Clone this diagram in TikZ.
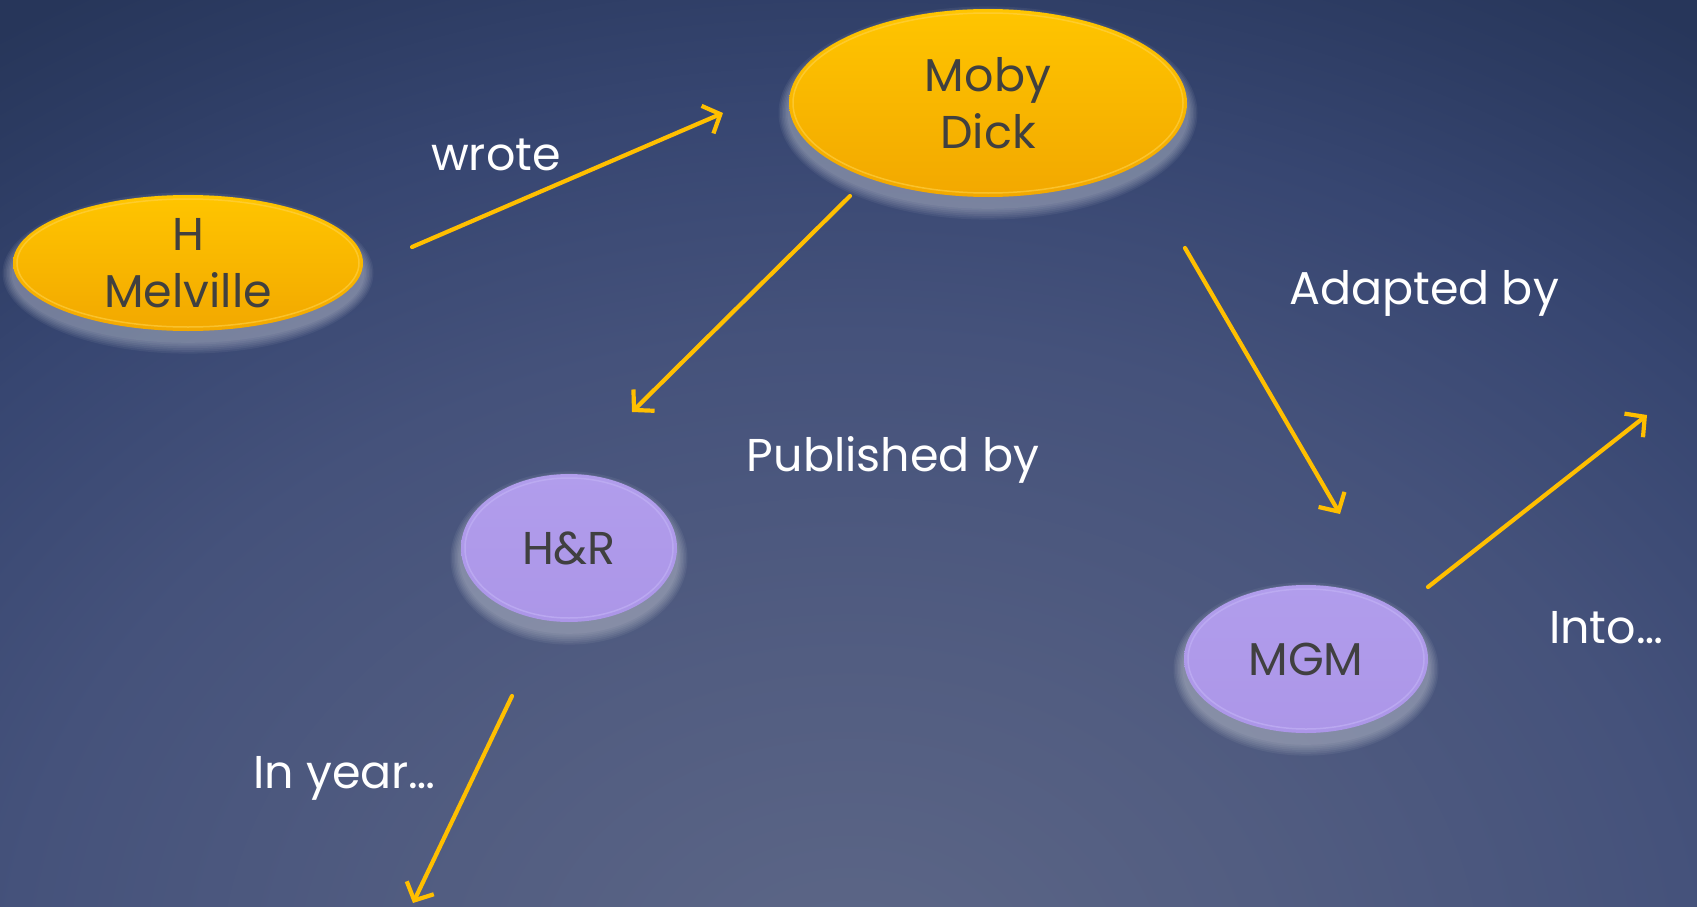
\documentclass[tikz,border=0pt]{standalone}
\usepackage{fontspec}
\setmainfont{Poppins}
\usetikzlibrary{arrows.meta,shapes.geometric}
\definecolor{bgA}{HTML}{5D6787}
\definecolor{bgB}{HTML}{525D81}
\definecolor{bgC}{HTML}{45527B}
\definecolor{bgD}{HTML}{374671}
\definecolor{bgE}{HTML}{2D3C63}
\definecolor{bgF}{HTML}{27365A}
\definecolor{goldT}{HTML}{FFC500}
\definecolor{goldB}{HTML}{F2A800}
\definecolor{goldRim}{HTML}{FFD24A}
\definecolor{purT}{HTML}{B19DEC}
\definecolor{purB}{HTML}{AC96E8}
\definecolor{purRim}{HTML}{C0B0F4}
\definecolor{txtgray}{HTML}{404040}
\definecolor{arrowc}{HTML}{FFBF00}
\pgfdeclareradialshading{bgglow}{\pgfpoint{0bp}{0bp}}{color(0bp)=(bgA); color(7bp)=(bgB); color(14bp)=(bgC); color(19bp)=(bgD); color(22.5bp)=(bgE); color(25bp)=(bgF); color(50bp)=(bgF)}
\newcommand\bigtxt{\fontsize{46}{57}\selectfont}
\newcommand\glowat[4]{%
  \foreach \i in {1,...,7}{\fill[white,opacity=0.055] (#1,#2+10) ellipse [x radius=#3+\i*1.5, y radius=#4+\i*1.8];}}
\begin{document}
\begin{tikzpicture}[x=1pt,y=-1pt,
  goldell/.style={ellipse, draw=none, top color=goldT, bottom color=goldB, inner sep=0pt, text=txtgray, align=center, font=\bigtxt},
  purell/.style={ellipse, draw=none, top color=purT, bottom color=purB, inner sep=0pt, text=txtgray, align=center, font=\bigtxt},
  lbl/.style={anchor=base, text=white, inner sep=0pt, font=\bigtxt},
  conn/.style={draw=arrowc, line width=4.2pt, line cap=round, -{Straight Barb[length=14pt,width=30pt]}}]
\useasboundingbox (0,0) rectangle (1697,907);
\fill[bgF] (0,0) rectangle (1697,907);
\begin{scope}
\clip (0,0) rectangle (1697,907);
\shade[shading=bgglow] (850,980) ellipse [x radius=1500, y radius=1150];
\end{scope}
% glows
\glowat{188}{263}{175}{68}
\glowat{988}{103}{199}{94}
\glowat{569}{548}{108}{74}
\glowat{1306}{659}{122}{74}
% nodes
\node[goldell, minimum width=350pt, minimum height=136pt] (mel) at (188,263) {H\\Melville};
\node[goldell, minimum width=398pt, minimum height=188pt] (moby) at (988,103) {Moby\\Dick};
\node[purell, minimum width=216pt, minimum height=148pt] (hr) at (569,548) {H\&R};
\node[purell, minimum width=244pt, minimum height=148pt] (mgm) at (1306,659) {MGM};
% rims
\draw[goldRim, line width=1.5pt, opacity=0.6] (188,263) ellipse [x radius=171, y radius=64];
\draw[goldRim, line width=1.5pt, opacity=0.6] (988,103) ellipse [x radius=195, y radius=90];
\draw[purRim, line width=1.5pt, opacity=0.7] (569,548) ellipse [x radius=104, y radius=70];
\draw[purRim, line width=1.5pt, opacity=0.7] (1306,659) ellipse [x radius=118, y radius=70];
% labels
\node[lbl] (wrote) at (496,170) {wrote};
\node[lbl] (adapt) at (1424,304) {Adapted by};
\node[lbl] (publ) at (893,471) {Published by};
\node[lbl, anchor=base west] (into) at (1549,643) {Into…};
\node[lbl, anchor=base west] (inyear) at (253,788) {In year…};
% connector ends
\coordinate (w1) at (412,247);
\coordinate (w2) at (723,113);
\coordinate (p1) at (850,196);
\coordinate (p2) at (632,412);
\coordinate (a1) at (1185,248);
\coordinate (a2) at (1340,514);
\coordinate (i1) at (1428,587);
\coordinate (i2) at (1647,415);
\coordinate (y1) at (512,696);
\coordinate (y2) at (413,903);
\draw[conn] (w1) -- (w2);
\draw[conn] (p1) -- (p2);
\draw[conn] (a1) -- (a2);
\draw[conn] (i1) -- (i2);
\draw[conn] (y1) -- (y2);
\end{tikzpicture}
\end{document}
